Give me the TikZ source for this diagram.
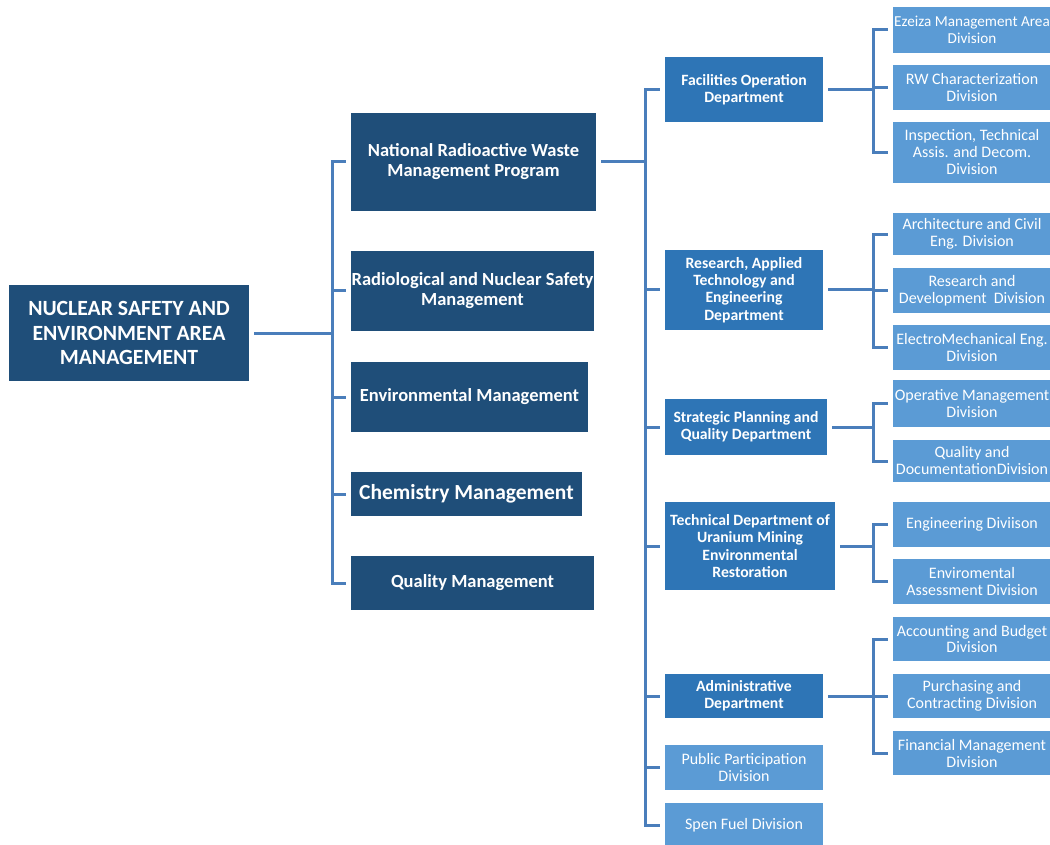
\documentclass[tikz,border=0pt]{standalone}
\usepackage{fontspec}
\setmainfont{Carlito}
\definecolor{navy}{RGB}{31,78,121}
\definecolor{midblue}{RGB}{46,117,182}
\definecolor{lightblue}{RGB}{91,155,213}
\definecolor{linecol}{RGB}{74,126,187}
\begin{document}
\begin{tikzpicture}[x=1pt,y=-1pt,
    conn/.style={draw=linecol,line width=3pt},
    topbox/.style={fill=navy,text=white,font=\bfseries\fontsize{21.7}{24.5}\selectfont,align=center,inner sep=0pt},
    mgmt/.style={fill=navy,text=white,font=\bfseries\fontsize{18.5}{20}\selectfont,align=center,inner sep=0pt},
    dept/.style={fill=midblue,text=white,font=\bfseries\fontsize{15.7}{17.2}\selectfont,align=center,inner sep=0pt,minimum width=158},
    divn/.style={fill=lightblue,text=white,font=\fontsize{16}{17}\selectfont,align=center,inner sep=0pt,minimum width=158}]
    \useasboundingbox (0,0) rectangle (1050,845);
    % top
    \node[topbox,minimum width=240,minimum height=96] (root) at (129,333) {NUCLEAR SAFETY AND\\ENVIRONMENT AREA\\MANAGEMENT};
    % managements
    \node[mgmt,minimum width=245,minimum height=98] (nrw) at (473.5,162) {National Radioactive Waste\\Management Program};
    \node[mgmt,minimum width=243,minimum height=80] (rad) at (472.5,291) {Radiological and Nuclear Safety\\Management};
    \node[mgmt,minimum width=237,minimum height=70] (env) at (469.5,397) {Environmental Management};
    \node[mgmt,minimum width=231,minimum height=44,font=\bfseries\fontsize{21.5}{24}\selectfont] (chem) at (466.5,494) {Chemistry Management};
    \node[mgmt,minimum width=243,minimum height=54] (qual) at (472.5,583) {Quality Management};
    % departments
    \node[dept,minimum height=65] (fac) at (744,89.5) {Facilities Operation\\Department};
    \node[dept,minimum height=80] (res) at (744,290) {Research, Applied\\Technology and\\Engineering\\Department};
    \node[dept,minimum width=162,minimum height=56] (str) at (746,427) {Strategic Planning and\\Quality Department};
    \node[dept,minimum width=170,minimum height=88] (tec) at (750,546) {Technical Department of\\Uranium Mining\\Environmental\\Restoration};
    \node[dept,minimum height=44] (adm) at (744,696) {Administrative\\Department};
    \node[divn,minimum height=45] (pub) at (744,767.5) {Public Participation\\Division};
    \node[divn,minimum height=44] (spf) at (744,825) {Spen Fuel Division};
    % divisions
    \node[divn,minimum height=46,font=\fontsize{15.2}{17}\selectfont] (ez) at (972,30) {Ezeiza Management Area\\Division};
    \node[divn,minimum height=45] (rw) at (972,87.5) {RW Characterization\\Division};
    \node[divn,minimum height=61] (ins) at (972,152.5) {Inspection, Technical\\Assis. and Decom.\\Division};
    \node[divn,minimum height=42] (arc) at (972,234) {Architecture and Civil\\Eng. Division};
    \node[divn,minimum height=45] (rd) at (972,290.5) {Research and\\Development~ Division};
    \node[divn,minimum height=45] (em) at (972,347.5) {ElectroMechanical Eng.\\Division};
    \node[divn,minimum height=47] (op) at (972,403.5) {Operative Management\\Division};
    \node[divn,minimum height=42] (qd) at (972,461) {Quality and\\DocumentationDivision};
    \node[divn,minimum height=45] (eng) at (972,524.5) {Engineering Diviison};
    \node[divn,minimum height=45] (envd) at (972,581.5) {Enviromental\\Assessment Division};
    \node[divn,minimum height=44] (acc) at (972,639) {Accounting and Budget\\Division};
    \node[divn,minimum height=44] (pur) at (972,696) {Purchasing and\\Contracting Division};
    \node[divn,minimum height=44] (fin) at (972,753) {Financial Management\\Division};
    % bus points
    \coordinate (busA) at (332,333);
    \coordinate (busB) at (645,162);
    \coordinate (busF) at (873,89.5);
    \coordinate (busR) at (873,290);
    \coordinate (busS) at (873,427);
    \coordinate (busT) at (873,546);
    \coordinate (busD) at (873,696);
    % connectors
    \draw[conn,shorten <=5pt] (root.east) -- (busA);
    \draw[conn,shorten <=5pt,shorten >=5pt] (nrw.west) -| (busA) |- (qual.west);
    \foreach \n in {rad,env,chem}
        \draw[conn,shorten >=5pt] (busA |- \n.west) -- (\n.west);
    \draw[conn,shorten <=5pt] (nrw.east) -- (busB);
    \draw[conn,shorten <=5pt,shorten >=5pt] (fac.west) -| (busB) |- (spf.west);
    \foreach \n in {res,str,tec,adm,pub}
        \draw[conn,shorten >=5pt] (busB |- \n.west) -- (\n.west);
    % division groups
    \draw[conn,shorten <=5pt] (fac.east) -- (busF);
    \draw[conn,shorten <=5pt,shorten >=5pt] (ez.west) -| (busF) |- (ins.west);
    \draw[conn,shorten >=5pt] (busF |- rw.west) -- (rw.west);
    \draw[conn,shorten <=5pt] (res.east) -- (busR);
    \draw[conn,shorten <=5pt,shorten >=5pt] ([yshift=-1pt]arc.west) -| (busR) |- (em.west);
    \draw[conn,shorten >=5pt] (busR |- rd.west) -- (rd.west);
    \draw[conn,shorten <=5pt] (str.east) -- (busS);
    \draw[conn,shorten <=5pt,shorten >=5pt] (op.west) -| (busS) |- (qd.west);
    \draw[conn,shorten <=5pt] (tec.east) -- (busT);
    \draw[conn,shorten <=5pt,shorten >=5pt] (eng.west) -| (busT) |- (envd.west);
    \draw[conn,shorten <=5pt] (adm.east) -- (busD);
    \draw[conn,shorten <=5pt,shorten >=5pt] (acc.west) -| (busD) |- (fin.west);
    \draw[conn,shorten >=5pt] (busD |- pur.west) -- (pur.west);
\end{tikzpicture}
\end{document}
